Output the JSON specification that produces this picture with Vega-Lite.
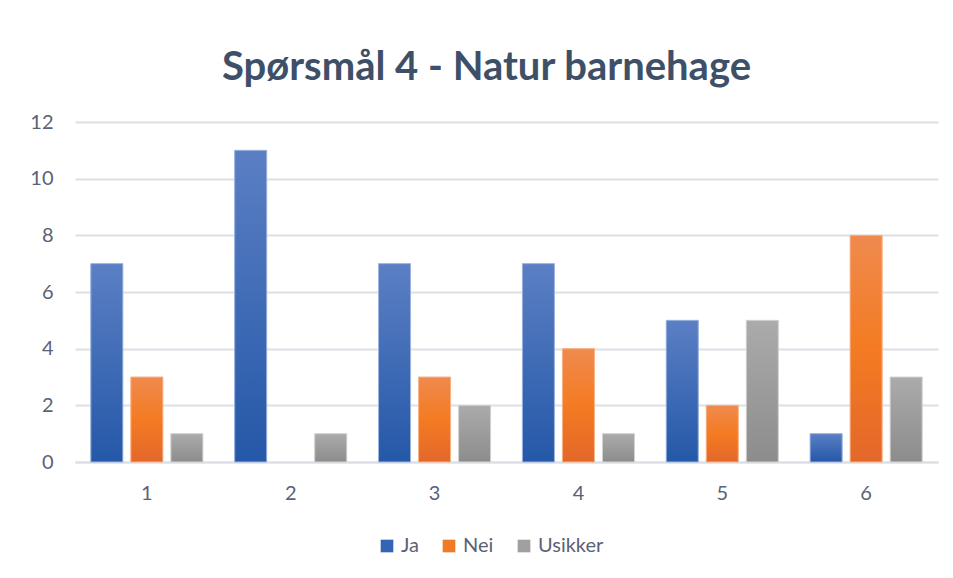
{
  "$schema": "https://vega.github.io/schema/vega-lite/v6.json",
  "autosize": "none",
  "width": 863,
  "height": 340,
  "padding": {"left": 75, "top": 122, "right": 15, "bottom": 116},
  "background": "white",
  "title": {
    "text": "Spørsmål 4 - Natur barnehage",
    "font": "Lato",
    "fontWeight": "bold",
    "fontSize": 40,
    "color": "#3E5068",
    "anchor": "middle",
    "frame": "group",
    "dx": -20,
    "offset": 24
  },
  "config": {
    "view": {"stroke": null},
    "font": "Lato"
  },
  "data": {
    "values": [
      {"q": "1", "s": "Ja", "v": 7}, {"q": "1", "s": "Nei", "v": 3}, {"q": "1", "s": "Usikker", "v": 1},
      {"q": "2", "s": "Ja", "v": 11}, {"q": "2", "s": "Nei", "v": 0}, {"q": "2", "s": "Usikker", "v": 1},
      {"q": "3", "s": "Ja", "v": 7}, {"q": "3", "s": "Nei", "v": 3}, {"q": "3", "s": "Usikker", "v": 2},
      {"q": "4", "s": "Ja", "v": 7}, {"q": "4", "s": "Nei", "v": 4}, {"q": "4", "s": "Usikker", "v": 1},
      {"q": "5", "s": "Ja", "v": 5}, {"q": "5", "s": "Nei", "v": 2}, {"q": "5", "s": "Usikker", "v": 5},
      {"q": "6", "s": "Ja", "v": 1}, {"q": "6", "s": "Nei", "v": 8}, {"q": "6", "s": "Usikker", "v": 3}
    ]
  },
  "encoding": {
    "x": {
      "field": "q", "type": "nominal",
      "scale": {"domain": ["1","2","3","4","5","6"], "paddingInner": 0.221, "paddingOuter": 0.11},
      "axis": {
        "title": null, "labelAngle": 0, "labelFont": "Lato", "labelFontSize": 20,
        "labelColor": "#5A6275", "labelPadding": 21, "ticks": false,
        "domainColor": "#DCE0E6", "domainWidth": 2, "grid": false
      }
    },
    "xOffset": {
      "field": "s", "type": "nominal",
      "scale": {"domain": ["Ja","Nei","Usikker"], "paddingInner": 0.2, "paddingOuter": 0}
    },
    "y": {
      "field": "v", "type": "quantitative",
      "scale": {"domain": [0, 12], "nice": false},
      "axis": {
        "title": null, "values": [0,2,4,6,8,10,12], "labelFont": "Lato", "labelFontSize": 20,
        "labelColor": "#5A6275", "labelPadding": 22, "ticks": false, "domain": false,
        "gridColor": "#DCE0E6", "gridWidth": 2
      }
    }
  },
  "layer": [
    {
      "mark": {"type": "bar"},
      "encoding": {
        "color": {
          "field": "s", "type": "nominal",
          "scale": {"domain": ["Ja","Nei","Usikker"], "range": ["#3464B4", "#F07A28", "#A0A0A0"]},
          "legend": {
            "title": null, "orient": "none", "direction": "horizontal",
            "legendX": 302, "legendY": 414, "symbolType": "square", "symbolSize": 160,
            "symbolStrokeWidth": 0, "labelFont": "Lato", "labelFontSize": 20, "labelColor": "#5A6275",
            "columnPadding": 20, "labelOffset": 4
          }
        }
      }
    },
    {
      "transform": [{"filter": "datum.s === 'Ja'"}],
      "mark": {"type": "bar", "stroke": "#9FB5DE", "strokeWidth": 1,
        "fill": {"gradient": "linear", "x1": 0, "y1": 0, "x2": 0, "y2": 1,
          "stops": [{"offset": 0, "color": "#5B7FC4"}, {"offset": 1, "color": "#2458A8"}]}}
    },
    {
      "transform": [{"filter": "datum.s === 'Nei' && datum.v > 0"}],
      "mark": {"type": "bar", "stroke": "#F7B58A", "strokeWidth": 1,
        "fill": {"gradient": "linear", "x1": 0, "y1": 0, "x2": 0, "y2": 1,
          "stops": [{"offset": 0, "color": "#EF8A4E"}, {"offset": 0.5, "color": "#F47B22"}, {"offset": 1, "color": "#E3672A"}]}}
    },
    {
      "transform": [{"filter": "datum.s === 'Usikker'"}],
      "mark": {"type": "bar", "stroke": "#D4D4D4", "strokeWidth": 1,
        "fill": {"gradient": "linear", "x1": 0, "y1": 0, "x2": 0, "y2": 1,
          "stops": [{"offset": 0, "color": "#ABABAB"}, {"offset": 1, "color": "#8C8C8C"}]}}
    }
  ]
}
